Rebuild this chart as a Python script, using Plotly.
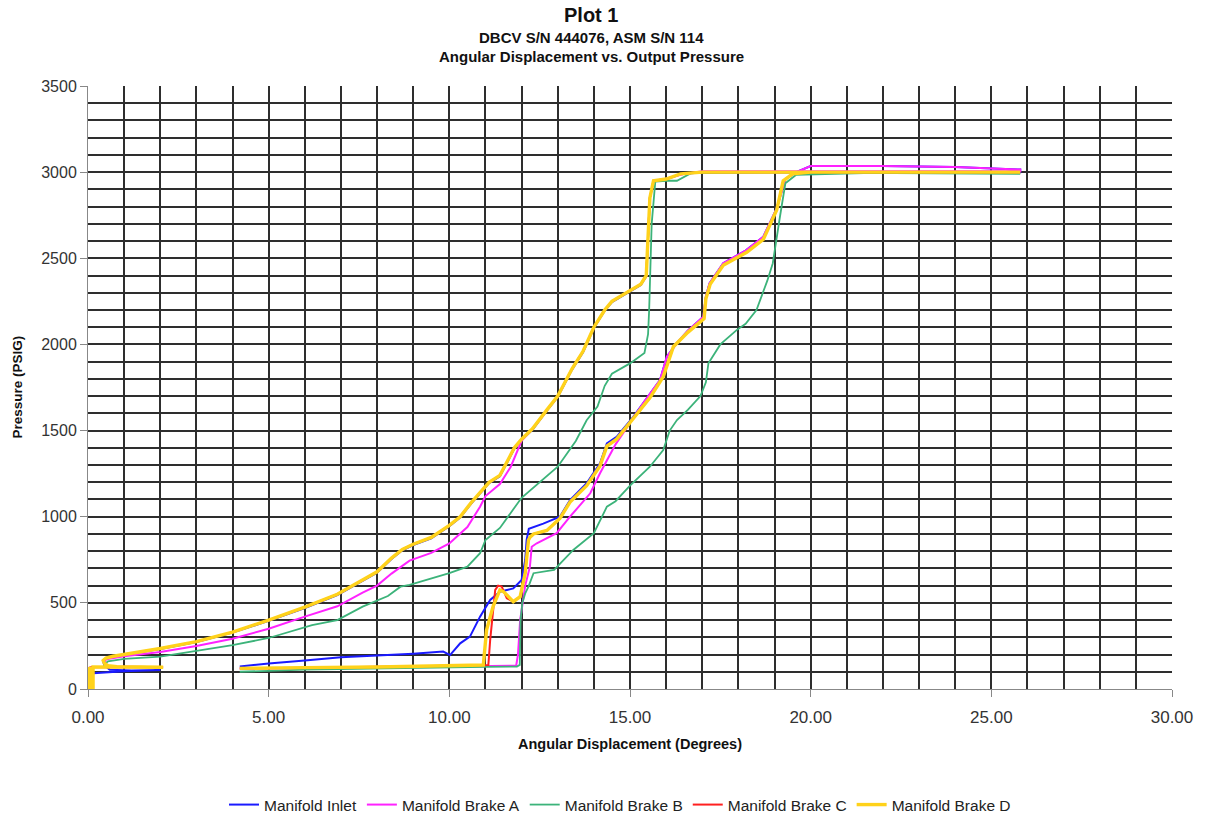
import plotly.graph_objects as go

# ---------------- data ----------------
# Manifold Inlet (blue)
inlet_x = [0.15, 1.0, 2.0, 1.2, 0.6, 0.45, 0.42, 0.5, 0.7, 1.0, 2.0, 3.0, 4.0, 5.0, 6.0, 6.9, 7.6, 8.0, 8.4,
           8.7, 9.0, 9.5, 10.0, 10.3, 10.6, 10.9, 11.1, 11.4, 11.6, 11.8, 12.0, 12.3, 12.7, 13.0, 13.4, 13.7,
           14.0, 14.3, 14.5, 15.0, 15.3, 15.45, 15.5, 15.55, 15.65, 16.0, 16.4, 17.0, 20.0, 25.8,
           25.8, 24.0, 22.0, 20.0, 19.6, 19.3, 19.06, 18.69, 18.2, 17.58, 17.2, 17.1, 17.03, 16.6, 16.29, 16.02,
           15.83, 15.46, 15.09, 14.63, 14.36, 14.17, 13.8, 13.34, 13.06, 12.6, 12.33, 12.2, 12.14, 12.1, 12.0,
           11.77, 11.4, 11.13, 10.85, 10.57, 10.3, 10.02, 9.83, 9.0, 8.0, 7.0, 6.0, 5.0, 4.2]
inlet_y = [92, 103, 110, 108, 112, 140, 160, 176, 188, 198, 232, 272, 327, 396, 470, 545, 625, 675, 755,
           805, 835, 875, 945, 995, 1075, 1145, 1195, 1235, 1315, 1395, 1445, 1505, 1615, 1695, 1855, 1955,
           2095, 2195, 2245, 2305, 2345, 2395, 2600, 2850, 2945, 2958, 2988, 3000, 3000, 3000,
           3015, 3030, 3035, 3035, 3000, 2960, 2790, 2625, 2545, 2471, 2354, 2277, 2160, 2080, 2006, 1929,
           1793, 1687, 1580, 1464, 1426, 1310, 1194, 1097, 1000, 960, 942, 930, 865, 749, 633,
           584, 565, 517, 420, 304, 265, 197, 217, 205, 195, 185, 165, 148, 130]

# Manifold Brake A (magenta)
brake_a_x = [0.55, 0.45, 0.5, 1.0, 2.0, 3.0, 4.0, 5.0, 6.0, 6.9, 7.6, 8.0, 8.4, 8.9, 9.5, 10.0, 10.5, 10.85, 11.0,
             11.4, 11.7, 12.0, 12.3, 12.7, 13.0, 13.4, 13.7, 14.0, 14.3, 14.5, 15.0, 15.3, 15.45, 15.5, 15.55,
             15.65, 16.0, 16.5, 17.0, 20.0, 25.8,
             25.8, 24.0, 22.0, 20.0, 19.6, 19.3, 19.06, 18.69, 18.2, 17.58, 17.2, 17.1, 17.03, 16.6, 16.29, 16.02,
             15.83, 15.46, 14.99, 14.6, 14.17, 13.9, 13.34, 12.97, 12.42, 12.28, 12.23, 12.1, 11.96, 11.9, 11.85,
             11.0, 8.0, 6.0, 4.2]
brake_a_y = [132, 150, 172, 190, 215, 250, 292, 350, 420, 480, 560, 600, 670, 745, 790, 845, 940, 1058, 1120,
             1190, 1290, 1440, 1510, 1620, 1700, 1860, 1960, 2100, 2200, 2250, 2310, 2350, 2400, 2600, 2850,
             2950, 2962, 2990, 3005, 3005, 3005,
             3015, 3030, 3035, 3035, 3000, 2960, 2790, 2625, 2545, 2471, 2354, 2277, 2160, 2080, 2006, 1929,
             1793, 1687, 1542, 1420, 1252, 1136, 1000, 904, 846, 826, 710, 600, 400, 200, 135,
             132, 125, 120, 118]

# Manifold Brake B (green)
brake_b_x = [0.5, 0.45, 0.55, 1.0, 2.0, 3.0, 4.0, 5.0, 6.2, 6.9, 7.6, 8.3, 8.65, 8.9, 9.5, 10.0, 10.5, 10.85,
             11.0, 11.4, 12.0, 12.6, 13.0, 13.5, 13.8, 14.1, 14.3, 14.5, 15.0, 15.4, 15.5, 15.53, 15.55, 15.6,
             15.7, 16.0, 16.3, 16.7, 20.0, 25.8,
             25.8, 22.0, 19.6, 19.3, 19.15, 19.05, 19.0, 18.95, 18.8, 18.6, 18.5, 18.2, 17.95, 17.5, 17.3, 17.17,
             17.1, 16.95, 16.6, 16.3, 16.1, 15.92, 15.55, 15.0, 14.6, 14.36, 14.0, 13.43, 12.9, 12.33, 12.19,
             12.1, 12.02, 11.97, 11.95, 11.87, 11.0, 8.0, 6.0, 4.2]
brake_b_y = [125, 140, 160, 175, 188, 220, 255, 296, 371, 400, 478, 540, 594, 604, 640, 672, 710, 788,
             865, 935, 1110, 1215, 1290, 1440, 1560, 1640, 1760, 1830, 1890, 1950, 2060, 2200, 2370, 2700,
             2945, 2950, 2950, 2995, 2998, 2990,
             2992, 2998, 2985, 2935, 2741, 2600, 2548, 2470, 2370, 2260, 2200, 2120, 2083, 2000, 1929, 1890,
             1780, 1700, 1620, 1561, 1500, 1387, 1290, 1180, 1090, 1058, 904, 807, 691, 672, 594,
             555, 500, 400, 140, 130, 129, 120, 112, 100]

# Manifold Brake C (red)
brake_c_x = [0.05, 0.05, 0.12, 1.0, 2.08, 1.5, 0.8, 0.55, 0.45, 0.42, 0.5, 0.7, 1.0, 2.0, 3.0, 4.0, 5.0, 6.0,
             6.9, 7.6, 8.0, 8.4, 8.7, 9.0, 9.5, 10.0, 10.3, 10.6, 10.9, 11.1, 11.4, 11.6, 11.8, 12.0, 12.3, 12.7,
             13.0, 13.4, 13.7, 14.0, 14.3, 14.5, 15.0, 15.3, 15.45, 15.5, 15.55, 15.65, 16.0, 16.4, 17.0, 20.0,
             25.8,
             25.8, 20.0, 19.5, 19.24, 19.06, 18.69, 18.23, 17.58, 17.22, 17.1, 17.05, 16.6, 16.2, 15.92, 15.55,
             15.09, 14.63, 14.36, 14.17, 13.8, 13.34, 13.06, 12.7, 12.33, 12.23, 12.19, 12.1, 11.96, 11.77, 11.59,
             11.45, 11.35, 11.27, 11.13, 11.08, 10.0, 8.0, 6.0, 4.2]
brake_c_y = [0, 125, 128, 127, 126, 127, 130, 135, 150, 165, 180, 190, 200, 235, 275, 330, 400, 475,
             550, 630, 680, 760, 810, 840, 880, 950, 1000, 1080, 1150, 1200, 1240, 1320, 1400, 1450, 1510, 1620,
             1700, 1860, 1960, 2100, 2200, 2250, 2310, 2350, 2400, 2600, 2850, 2950, 2960, 2990, 3000, 3000,
             3000,
             3000, 3000, 2990, 2950, 2780, 2610, 2535, 2460, 2350, 2265, 2150, 2070, 1987, 1813, 1690,
             1570, 1450, 1410, 1295, 1180, 1085, 990, 920, 900, 880, 865, 672, 536, 507, 526,
             594, 600, 575, 284, 139, 135, 128, 124, 120]

# Manifold Brake D (yellow)
brake_d_x = [0.03, 0.03, 0.1, 0.12, 0.14, 0.14, 1.0, 2.08, 1.5, 0.8, 0.55, 0.45, 0.42, 0.5, 0.7, 1.0, 2.0, 3.0,
             4.0, 5.0, 6.0, 6.9, 7.6, 8.0, 8.4, 8.7, 9.0, 9.5, 10.0, 10.3, 10.6, 10.9, 11.1, 11.4, 11.6, 11.8,
             12.0, 12.3, 12.7, 13.0, 13.4, 13.7, 14.0, 14.3, 14.5, 15.0, 15.3, 15.45, 15.5, 15.55, 15.65, 16.0,
             16.4, 17.0, 20.0, 25.8,
             25.8, 20.0, 19.5, 19.24, 19.06, 18.69, 18.23, 17.58, 17.22, 17.1, 17.05, 16.6, 16.2, 15.92, 15.55,
             15.09, 14.63, 14.36, 14.17, 13.8, 13.34, 13.06, 12.7, 12.33, 12.23, 12.19, 12.1, 11.96, 11.77, 11.5,
             11.4, 11.21, 11.03, 10.94, 10.0, 8.0, 6.0, 4.2]
brake_d_y = [0, 128, 0, 128, 0, 128, 127, 126, 127, 130, 135, 150, 165, 180, 190, 200, 235, 275,
             330, 400, 475, 550, 630, 680, 760, 810, 840, 880, 950, 1000, 1080, 1150, 1200, 1240, 1320, 1400,
             1450, 1510, 1620, 1700, 1860, 1960, 2100, 2200, 2250, 2310, 2350, 2400, 2600, 2850, 2950, 2960,
             2990, 3000, 3000, 3000,
             3000, 3000, 2990, 2950, 2780, 2610, 2535, 2460, 2350, 2265, 2150, 2070, 1987, 1813, 1690,
             1570, 1450, 1410, 1295, 1180, 1085, 990, 920, 900, 880, 865, 672, 536, 507, 565,
             575, 478, 342, 139, 135, 128, 124, 120]

series_names = ["Manifold Inlet", "Manifold Brake A", "Manifold Brake B", "Manifold Brake C", "Manifold Brake D"]
series_x = [inlet_x, brake_a_x, brake_b_x, brake_c_x, brake_d_x]
series_y = [inlet_y, brake_a_y, brake_b_y, brake_c_y, brake_d_y]
series_colors = ["#1a1aff", "#ff22ff", "#3cb37a", "#ff2020", "#ffd21a"]
series_widths = [2, 2, 1.8, 2, 3.4]

x_ticks = [0, 5, 10, 15, 20, 25, 30]
y_ticks = [0, 500, 1000, 1500, 2000, 2500, 3000, 3500]

# ---------------- figure ----------------
fig = go.Figure()
for nm, xs, ys, col, w in zip(series_names, series_x, series_y, series_colors, series_widths):
    fig.add_trace(go.Scatter(x=xs, y=ys, mode="lines", name=nm,
                             line=dict(color=col, width=w)))

FONT = "Liberation Sans, Arial, sans-serif"
GRID = "#2e2e2e"
PH = 603.0   # plot height in px
PW = 1084.0  # plot width in px

fig.update_layout(
    width=1206, height=820,
    margin=dict(l=88, r=34, t=86, b=131, autoexpand=False),
    paper_bgcolor="white", plot_bgcolor="white",
    font=dict(family=FONT, color="#222"),
    showlegend=True,
    legend=dict(orientation="h", x=(620 - 88) / PW, xanchor="center", y=-(805 - 689) / PH, yanchor="middle",
                font=dict(size=15.5, family=FONT, color="#222"), bgcolor="rgba(0,0,0,0)"),
    xaxis=dict(range=[0, 30], tickvals=x_ticks, ticktext=[f"{v:.2f}" for v in x_ticks],
               showgrid=True, gridcolor=GRID, gridwidth=1.6,
               minor=dict(dtick=1, showgrid=True, gridcolor=GRID, gridwidth=1.6),
               ticks="outside", ticklen=7, tickcolor="#888", tickwidth=1, ticklabelstandoff=6,
               showline=True, linecolor="#888", linewidth=1, mirror=False,
               tickfont=dict(size=17, family=FONT, color="#333"), zeroline=False),
    yaxis=dict(range=[0, 3500], tickvals=y_ticks,
               showgrid=True, gridcolor=GRID, gridwidth=1.6,
               minor=dict(dtick=100, showgrid=True, gridcolor=GRID, gridwidth=1.6),
               ticks="outside", ticklen=7, tickcolor="#888", tickwidth=1,
               showline=True, linecolor="#888", linewidth=1,
               tickfont=dict(size=16, family=FONT, color="#333"), zeroline=False),
    annotations=[
        dict(text="<b>Plot 1</b>", xref="paper", yref="paper", x=(591 - 88) / PW, y=1.0 + (86 - 15) / PH,
             showarrow=False, font=dict(size=20, family=FONT, color="#111"), yanchor="middle"),
        dict(text="<b>DBCV S/N 444076, ASM S/N 114</b>", xref="paper", yref="paper", x=(591 - 88) / PW,
             y=1.0 + (86 - 38) / PH, showarrow=False, font=dict(size=15, family=FONT, color="#111"),
             yanchor="middle"),
        dict(text="<b>Angular Displacement vs. Output Pressure</b>", xref="paper", yref="paper",
             x=(591 - 88) / PW, y=1.0 + (86 - 57) / PH, showarrow=False,
             font=dict(size=15, family=FONT, color="#111"), yanchor="middle"),
        dict(text="<b>Angular Displacement (Degrees)</b>", xref="paper", yref="paper", x=(630 - 88) / PW,
             y=-(744 - 689) / PH, showarrow=False, font=dict(size=14.5, family=FONT, color="#111"),
             yanchor="middle"),
        dict(text="<b>Pressure (PSIG)</b>", xref="paper", yref="paper", x=-(88 - 17) / PW,
             y=0.5, textangle=-90, showarrow=False, font=dict(size=13.5, family=FONT, color="#111"),
             xanchor="center", yanchor="middle"),
    ],
)

fig.write_html("out.html")
